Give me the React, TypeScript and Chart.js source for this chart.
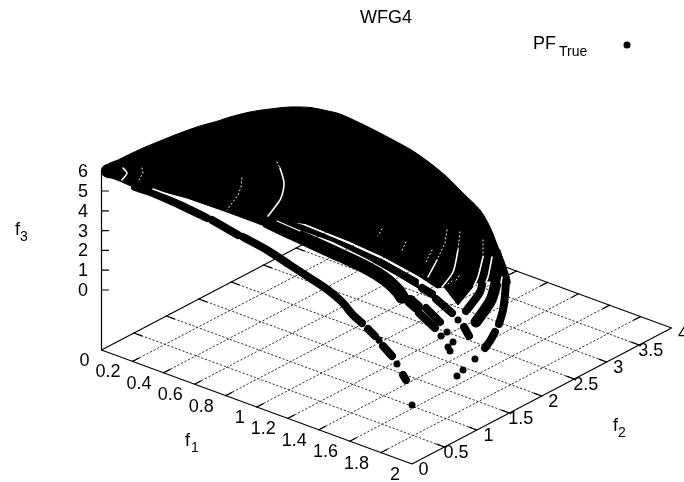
import React, { useEffect, useRef } from "react";
import { Chart, registerables } from "chart.js";

Chart.register(...registerables);

type P = [number, number];

// Axis ticks
const f1Ticks = [0, 0.2, 0.4, 0.6, 0.8, 1, 1.2, 1.4, 1.6, 1.8, 2];
const f2Ticks = [0, 0.5, 1, 1.5, 2, 2.5, 3, 3.5, 4];
const f3Ticks = [0, 1, 2, 3, 4, 5, 6];
const f3Floor = -3.03;

// Oblique view of (f1, f2, f3) as used by the plot
const project = (f1: number, f2: number, f3: number): P => [
  101.5 + 155.25 * f1 + 64.9 * f2,
  290 + 57 * f1 - 34 * f2 - 19.8 * f3,
];

const domeOutline: P[] = [
  [102, 168], [110, 163], [118, 160], [128, 155], [143, 148], [160, 141], [180, 133], [200, 126],
  [218, 121], [230, 117], [250, 112], [270, 109], [290, 107], [310, 107.5], [328, 111], [340, 114],
  [360, 123], [380, 133], [397, 142], [413, 151], [430, 163], [447, 177], [463, 193], [480, 210],
  [490, 227], [498, 247], [506, 267], [509, 284], [430, 240], [200, 170],
];
const surfaceBody: P[] = [
  [102, 171], [200, 150], [430, 200], [500, 250], [509, 281],
  [484, 281], [476, 283], [458, 305], [444, 287], [437, 288], [418, 275.5], [383, 256.5],
  [350, 241.5], [305, 223.5], [277, 220], [268, 219], [262, 225], [227, 212], [187, 198], [157, 190],
  [140, 189], [133, 187], [122, 182], [117, 180], [104, 175],
];
const innerStrip: P[] = [
  [277, 218], [305, 226], [350, 245], [383, 260], [418, 279.5], [418, 288], [397, 275.5], [367, 258.5],
  [333, 241.5], [300, 229.5], [277, 220],
];

const cornerBlobA: P[] = [[108, 171], [117, 172]];
const cornerBlobB: P[] = [[130, 176], [135, 179]];
const frontArcA: P[] = [[135, 187], [153, 193], [180, 205], [207, 218]];
const frontArcB: P[] = [[212, 220], [238, 235]];
const frontArcC: P[] = [[243, 237], [267, 250], [290, 265], [310, 278], [328, 290], [342, 302], [353, 315], [362, 323]];
const frontArcD: P[] = [[368, 329], [375, 336]];
const frontArcE: P[] = [[383, 346], [392, 356]];
const frontArcF: P[] = [[403, 375], [406, 380]];
const middleWide: P[] = [[268, 222], [300, 237], [333, 252], [367, 268], [385, 279], [398, 291], [402, 297]];
const middleFat: P[] = [[410, 301], [417, 307]];
const middleThinB: P[] = [[422, 288], [432, 294]];
const middleThinC: P[] = [[436, 299], [452, 313]];
const clusterA: P[] = [[419, 313], [435, 328]];
const clusterB: P[] = [[426, 308], [440, 322]];
const clusterC: P[] = [[464, 327], [469, 336]];
const outerA: P[] = [[506, 281], [505, 295], [503, 310], [499, 324]];
const outerB: P[] = [[495, 332], [490, 341], [485, 348]];
const outerC: P[] = [[497, 279], [491, 300], [476, 322]];
const outerD: P[] = [[483, 279], [480, 292], [466, 311]];
const looseDots: P[] = [
  [379, 340], [397, 364], [412, 405], [458, 320], [475, 359], [463, 370], [457, 376],
  [447, 332], [441, 336], [453, 342], [448, 347], [450, 351],
];
const legendDot: P[] = [[627, 45]];

const slitWide: P[][] = [
  [[123, 168], [127, 173], [122, 180]],
  [[280, 168], [284, 183], [281, 198], [275, 207], [268, 216]],
  [[437, 260], [428, 277]],
  [[458, 250], [453, 272], [442, 287]],
  [[483, 257], [478, 277], [474, 286]],
  [[492, 257], [488, 277], [486, 282]],
  [[502, 277], [501, 283]],
  [[153, 189], [177, 198]],
];
const slitNarrow: P[][] = [
  [[277, 221], [300, 231]],
  [[305, 225], [350, 243]],
];
const slitThin: P[][] = [
  [[142, 168], [143, 173], [139, 180]],
  [[277, 162], [280, 168]],
  [[242, 178], [241, 187], [238, 195], [227, 210]],
  [[447, 230], [445, 243], [437, 260]],
  [[460, 232], [458, 250]],
  [[483, 240], [483, 257]],
  [[382, 229], [378, 236]],
  [[406, 242], [401, 252]],
  [[432, 250], [425, 264]],
  [[459, 276], [455, 282]],
  [[452, 281], [448, 284]],
];

const pts = (a: P[]) => a.map(([x, y]) => ({ x, y }));
const line = (a: P[], width: number, color = "#000", order = 5, extra: any = {}) => ({
  data: pts(a),
  showLine: true,
  pointRadius: 0,
  borderColor: color,
  backgroundColor: color,
  borderWidth: width,
  borderCapStyle: "round",
  borderJoinStyle: "round",
  order,
  ...extra,
});

const FONT = '"Liberation Sans", Arial, sans-serif';

const textPlugin = {
  id: "labels3d",
  afterDraw(chart: any) {
    const { ctx, scales } = chart;
    const px = (x: number) => scales.x.getPixelForValue(x);
    const py = (y: number) => scales.y.getPixelForValue(y);
    const put = (s: string, x: number, y: number, size: number, align: CanvasTextAlign = "center") => {
      ctx.font = `${size}px ${FONT}`;
      ctx.textAlign = align;
      ctx.textBaseline = "middle";
      ctx.fillStyle = "#000";
      ctx.fillText(s, px(x), py(y));
    };
    ctx.save();
    f1Ticks.forEach((t) => {
      const [x, y] = project(t, 0, f3Floor);
      put(String(t), x - 12, y + 11, 18, "right");
    });
    f2Ticks.forEach((t) => {
      const [x, y] = project(2, t, f3Floor);
      put(String(t), x + 11.5, y + 6, 18);
    });
    f3Ticks.forEach((t) => {
      const [x, y] = project(0, 0, t);
      put(String(t), x - 13.5, y + 1, 18, "right");
    });
    put("WFG4", 386, 18, 18);
    put("PF", 533, 44, 18, "left");
    put("True", 559, 52, 14, "left");
    put("f", 15, 230, 18, "left");
    put("3", 20, 237, 14, "left");
    put("f", 185, 441, 18, "left");
    put("1", 191, 448, 14, "left");
    put("f", 613, 426, 18, "left");
    put("2", 618, 433, 14, "left");
    ctx.restore();
  },
};

export default function App() {
  const ref = useRef<HTMLCanvasElement>(null);
  useEffect(() => {
    const datasets: any[] = [];
    const dotted = { borderDash: [1.5, 2.5] };
    // Floor grid
    f1Ticks.slice(1, -1).forEach((t) =>
      datasets.push(line([project(t, 0, f3Floor), project(t, 4, f3Floor)], 1, "#333", 20, dotted))
    );
    f2Ticks.slice(1, -1).forEach((t) =>
      datasets.push(line([project(0, t, f3Floor), project(2, t, f3Floor)], 1, "#333", 20, dotted))
    );
    // Floor frame and ticks
    datasets.push(
      line([project(0, 0, f3Floor), project(2, 0, f3Floor), project(2, 4, f3Floor), project(0, 4, f3Floor), project(0, 0, f3Floor)], 1.2, "#000", 15)
    );
    f1Ticks.slice(1, -1).forEach((t) => {
      datasets.push(line([project(t, 0, f3Floor), project(t, 0.1, f3Floor)], 1.2, "#000", 15));
      datasets.push(line([project(t, 4, f3Floor), project(t, 3.9, f3Floor)], 1.2, "#000", 15));
    });
    f2Ticks.slice(1, -1).forEach((t) => {
      datasets.push(line([project(0, t, f3Floor), project(0.05, t, f3Floor)], 1.2, "#000", 15));
      datasets.push(line([project(2, t, f3Floor), project(1.95, t, f3Floor)], 1.2, "#000", 15));
    });
    // Vertical axis and ticks
    datasets.push(line([project(0, 0, f3Floor), project(0, 0, 6)], 1.2, "#000", 15));
    f3Ticks.forEach((t) => {
      const a = project(0, 0, t);
      datasets.push(line([a, [a[0] + 7, a[1]]], 1.2, "#000", 15));
    });
    // Front surface
    datasets.push(line(domeOutline, 1, "#000", 10, { fill: "shape", tension: 0.3 }));
    datasets.push(line(surfaceBody, 1, "#000", 9, { fill: "shape" }));
    datasets.push(line(innerStrip, 1, "#000", 9, { fill: "shape" }));
    datasets.push(line(cornerBlobA, 14));
    datasets.push(line(cornerBlobB, 9));
    [frontArcA, frontArcB, frontArcC, frontArcD, frontArcE, frontArcF].forEach((a) =>
      datasets.push(line(a, 8, "#000", 5, { tension: 0.3 }))
    );
    [middleThinB, middleThinC, clusterA, clusterB, clusterC].forEach((a) => datasets.push(line(a, 8)));
    datasets.push(line(outerB, 8, "#000", 5, { tension: 0.3 }));
    datasets.push(line(outerD, 8, "#000", 5, { tension: 0.3 }));
    datasets.push(line(middleWide, 13.5, "#000", 5, { tension: 0.3 }));
    datasets.push(line(middleFat, 12));
    datasets.push(line(outerA, 8, "#000", 5, { tension: 0.3 }));
    datasets.push(line(outerC, 11, "#000", 5, { tension: 0.3 }));
    datasets.push({
      data: pts(looseDots.concat(legendDot)),
      showLine: false,
      pointRadius: 3.5,
      pointBackgroundColor: "#000",
      pointBorderWidth: 0,
      order: 4,
    });
    slitWide.forEach((a) => datasets.push(line(a, 1.6, "#fff", 2, { tension: 0.3 })));
    slitNarrow.forEach((a) => datasets.push(line(a, 1.2, "#fff", 2)));
    slitThin.forEach((a) => datasets.push(line(a, 1, "#fff", 2, { borderDash: [1, 3] })));

    const chart = new Chart(ref.current!, {
      type: "scatter",
      data: { datasets },
      options: {
        animation: false,
        responsive: false,
        layout: { padding: 0, autoPadding: false },
        plugins: { legend: { display: false }, tooltip: { enabled: false } },
        scales: {
          x: { type: "linear", min: 0, max: 684, display: false },
          y: { type: "linear", min: 0, max: 482, reverse: true, display: false },
        },
      },
      plugins: [textPlugin],
    } as any);
    return () => chart.destroy();
  }, []);
  return (
    <div style={{ position: "absolute", left: 0, top: 0, width: 684, height: 482, background: "#fff" }}>
      <canvas ref={ref} width={684} height={482} style={{ display: "block" }} />
    </div>
  );
}
